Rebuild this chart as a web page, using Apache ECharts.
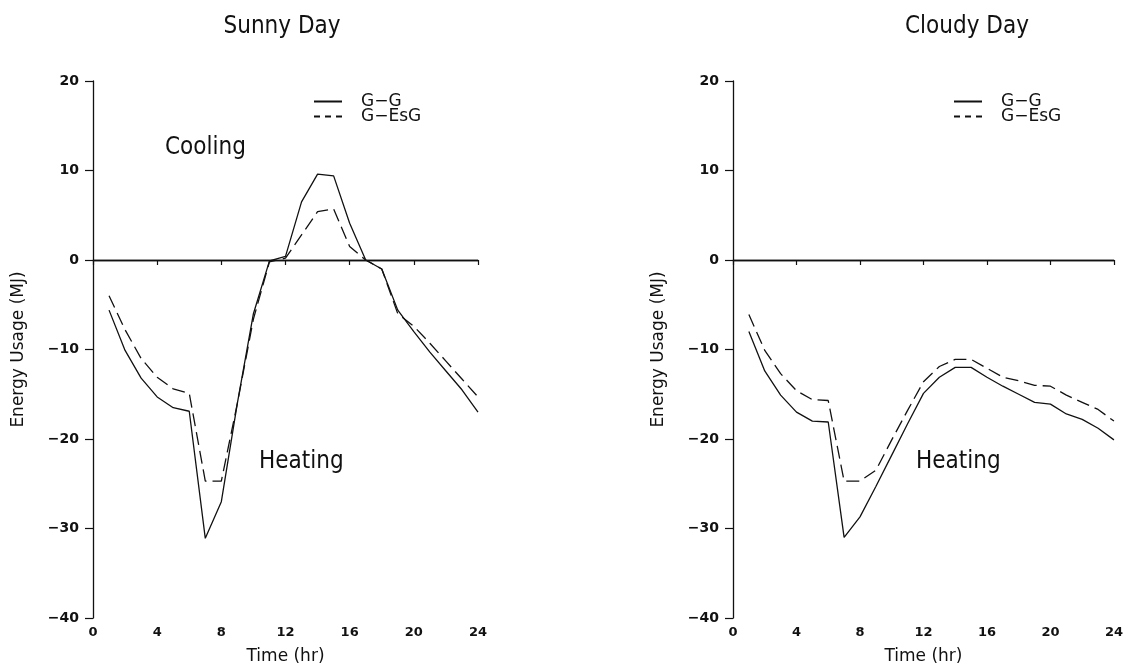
<!DOCTYPE html>
<html>
<head>
<meta charset="utf-8">
<title>Energy Usage: Sunny Day and Cloudy Day</title>
<script src="https://cdn.jsdelivr.net/npm/echarts@6/dist/echarts.min.js"></script>
<style>
  html, body { margin: 0; padding: 0; background: #ffffff; }
  #chart { width: 1126px; height: 670px; }
</style>
</head>
<body>
<div id="chart"></div>
<script>
// Hour of day for each reading
const hours = [1, 2, 3, 4, 5, 6, 7, 8, 9, 10, 11, 12, 13, 14, 15, 16, 17, 18, 19, 20, 21, 22, 23, 24];

// Sunny day, hourly energy usage (MJ); positive = cooling, negative = heating
const sunnyGG   = [-5.6, -10.1, -13.2, -15.3, -16.5, -16.9, -31.1, -27.0, -16.0, -6.0, -0.1, 0.4, 6.5, 9.6, 9.4, 4.1, 0.0, -1.0, -5.6, -8.0, -10.3, -12.4, -14.5, -17.0];
const sunnyGEsG = [-4.0, -7.8, -11.0, -13.1, -14.4, -14.9, -24.7, -24.7, -16.0, -6.6, -0.2, 0.2, 2.8, 5.4, 5.7, 1.5, 0.0, -1.0, -6.0, -7.4, -9.3, -11.3, -13.3, -15.3];

// Cloudy day, hourly energy usage (MJ)
const cloudyGG   = [-8.0, -12.4, -15.1, -17.0, -18.0, -18.1, -31.0, -28.7, -25.3, -21.8, -18.3, -14.9, -13.1, -12.0, -12.0, -13.1, -14.1, -15.0, -15.9, -16.1, -17.2, -17.8, -18.8, -20.1];
const cloudyGEsG = [-6.1, -10.1, -12.7, -14.6, -15.6, -15.7, -24.7, -24.7, -23.5, -20.1, -16.8, -13.6, -11.9, -11.1, -11.1, -12.1, -13.1, -13.5, -14.0, -14.1, -15.1, -15.9, -16.7, -18.0];

// Axis ticks
const xTicks = [0, 4, 8, 12, 16, 20, 24];
const yTicks = [-40, -30, -20, -10, 0, 10, 20];

const seriesNames = ['G\u2212G', 'G\u2212EsG'];
const panelTitles = ['Sunny Day', 'Cloudy Day'];

const ink = '#111111';
const labelFont = "'DejaVu Sans', sans-serif";
const textFont = "'DejaVu Sans Condensed', 'Liberation Sans Narrow', 'DejaVu Sans', sans-serif";
const nameFont = "'DejaVu Sans', sans-serif";

const pairs = (vals) => hours.map((h, i) => [h, vals[i]]);

const grids = [
  { left: 93, top: 81, width: 385, height: 537 },
  { left: 733, top: 81, width: 384, height: 537 }
];

function makeXAxis(idx) {
  return {
    type: 'value', gridIndex: idx,
    min: xTicks[0], max: xTicks[xTicks.length - 1], interval: 4,
    name: 'Time (hr)', nameLocation: 'middle', nameGap: 30,
    nameTextStyle: { fontFamily: nameFont, fontSize: 17, color: ink },
    axisLine: { show: true, lineStyle: { color: ink, width: 1.3 } },
    axisTick: { show: true, inside: false, length: 5, lineStyle: { color: ink, width: 1.2 } },
    axisLabel: { color: ink, fontFamily: labelFont, fontWeight: 'bold', fontSize: 13, margin: 8 },
    splitLine: { show: false }
  };
}

function makeYAxis(idx) {
  return {
    type: 'value', gridIndex: idx,
    min: yTicks[0], max: yTicks[yTicks.length - 1], interval: 10,
    name: 'Energy Usage (MJ)', nameLocation: 'middle', nameGap: 66, nameRotate: 90,
    nameTextStyle: { fontFamily: nameFont, fontSize: 17, color: ink },
    axisLine: { show: true, lineStyle: { color: ink, width: 1.3 } },
    axisTick: { show: true, inside: false, length: 8, lineStyle: { color: ink, width: 1.2 } },
    axisLabel: {
      color: ink, fontFamily: labelFont, fontWeight: 'bold', fontSize: 14, margin: 14,
      formatter: (v) => String(v).replace('-', '\u2212')
    },
    splitLine: { show: false }
  };
}

function lineSeries(name, idx, vals, dashed, withZero) {
  const s = {
    name: name, type: 'line',
    xAxisIndex: idx, yAxisIndex: idx,
    data: pairs(vals),
    showSymbol: false, symbol: 'none', smooth: false,
    lineStyle: { color: ink, width: 1.3, type: dashed ? [13, 6] : 'solid' },
    itemStyle: { color: ink },
    silent: true, animation: false
  };
  if (withZero) {
    s.markLine = {
      silent: true, symbol: ['none', 'none'], label: { show: false },
      lineStyle: { color: ink, width: 1.3, type: 'solid' },
      data: [{ yAxis: 0 }]
    };
  }
  return s;
}

function makeLegend(left) {
  return {
    orient: 'vertical', left: left, top: 88,
    itemWidth: 28, itemHeight: 14, itemGap: -2,
    selectedMode: false,
    itemStyle: { opacity: 0 },
    textStyle: { fontFamily: nameFont, fontSize: 17, color: ink, padding: [0, 0, 0, 14] },
    data: [
      { name: seriesNames[0], lineStyle: { type: 'solid', width: 2 } },
      { name: seriesNames[1], lineStyle: { type: [6, 5], width: 2 } }
    ]
  };
}

const chart = echarts.init(document.getElementById('chart'), null, { renderer: 'canvas' });

chart.setOption({
  backgroundColor: '#ffffff',
  animation: false,
  title: [
    { text: panelTitles[0], left: 277, top: 10, textAlign: 'center',
      textStyle: { fontFamily: textFont, fontWeight: 'normal', fontSize: 24, color: ink } },
    { text: panelTitles[1], left: 962, top: 10, textAlign: 'center',
      textStyle: { fontFamily: textFont, fontWeight: 'normal', fontSize: 24, color: ink } }
  ],
  legend: [makeLegend(308), makeLegend(948)],
  grid: grids,
  xAxis: [makeXAxis(0), makeXAxis(1)],
  yAxis: [makeYAxis(0), makeYAxis(1)],
  series: [
    lineSeries(seriesNames[0], 0, sunnyGG, false, true),
    lineSeries(seriesNames[1], 0, sunnyGEsG, true, false),
    lineSeries(seriesNames[0], 1, cloudyGG, false, true),
    lineSeries(seriesNames[1], 1, cloudyGEsG, true, false)
  ],
  graphic: [
    { type: 'text', left: 165, top: 136,
      style: { text: 'Cooling', fontFamily: textFont, fontSize: 24, fill: ink } },
    { type: 'text', left: 259, top: 450,
      style: { text: 'Heating', fontFamily: textFont, fontSize: 24, fill: ink } },
    { type: 'text', left: 916, top: 450,
      style: { text: 'Heating', fontFamily: textFont, fontSize: 24, fill: ink } }
  ]
});
</script>
</body>
</html>
